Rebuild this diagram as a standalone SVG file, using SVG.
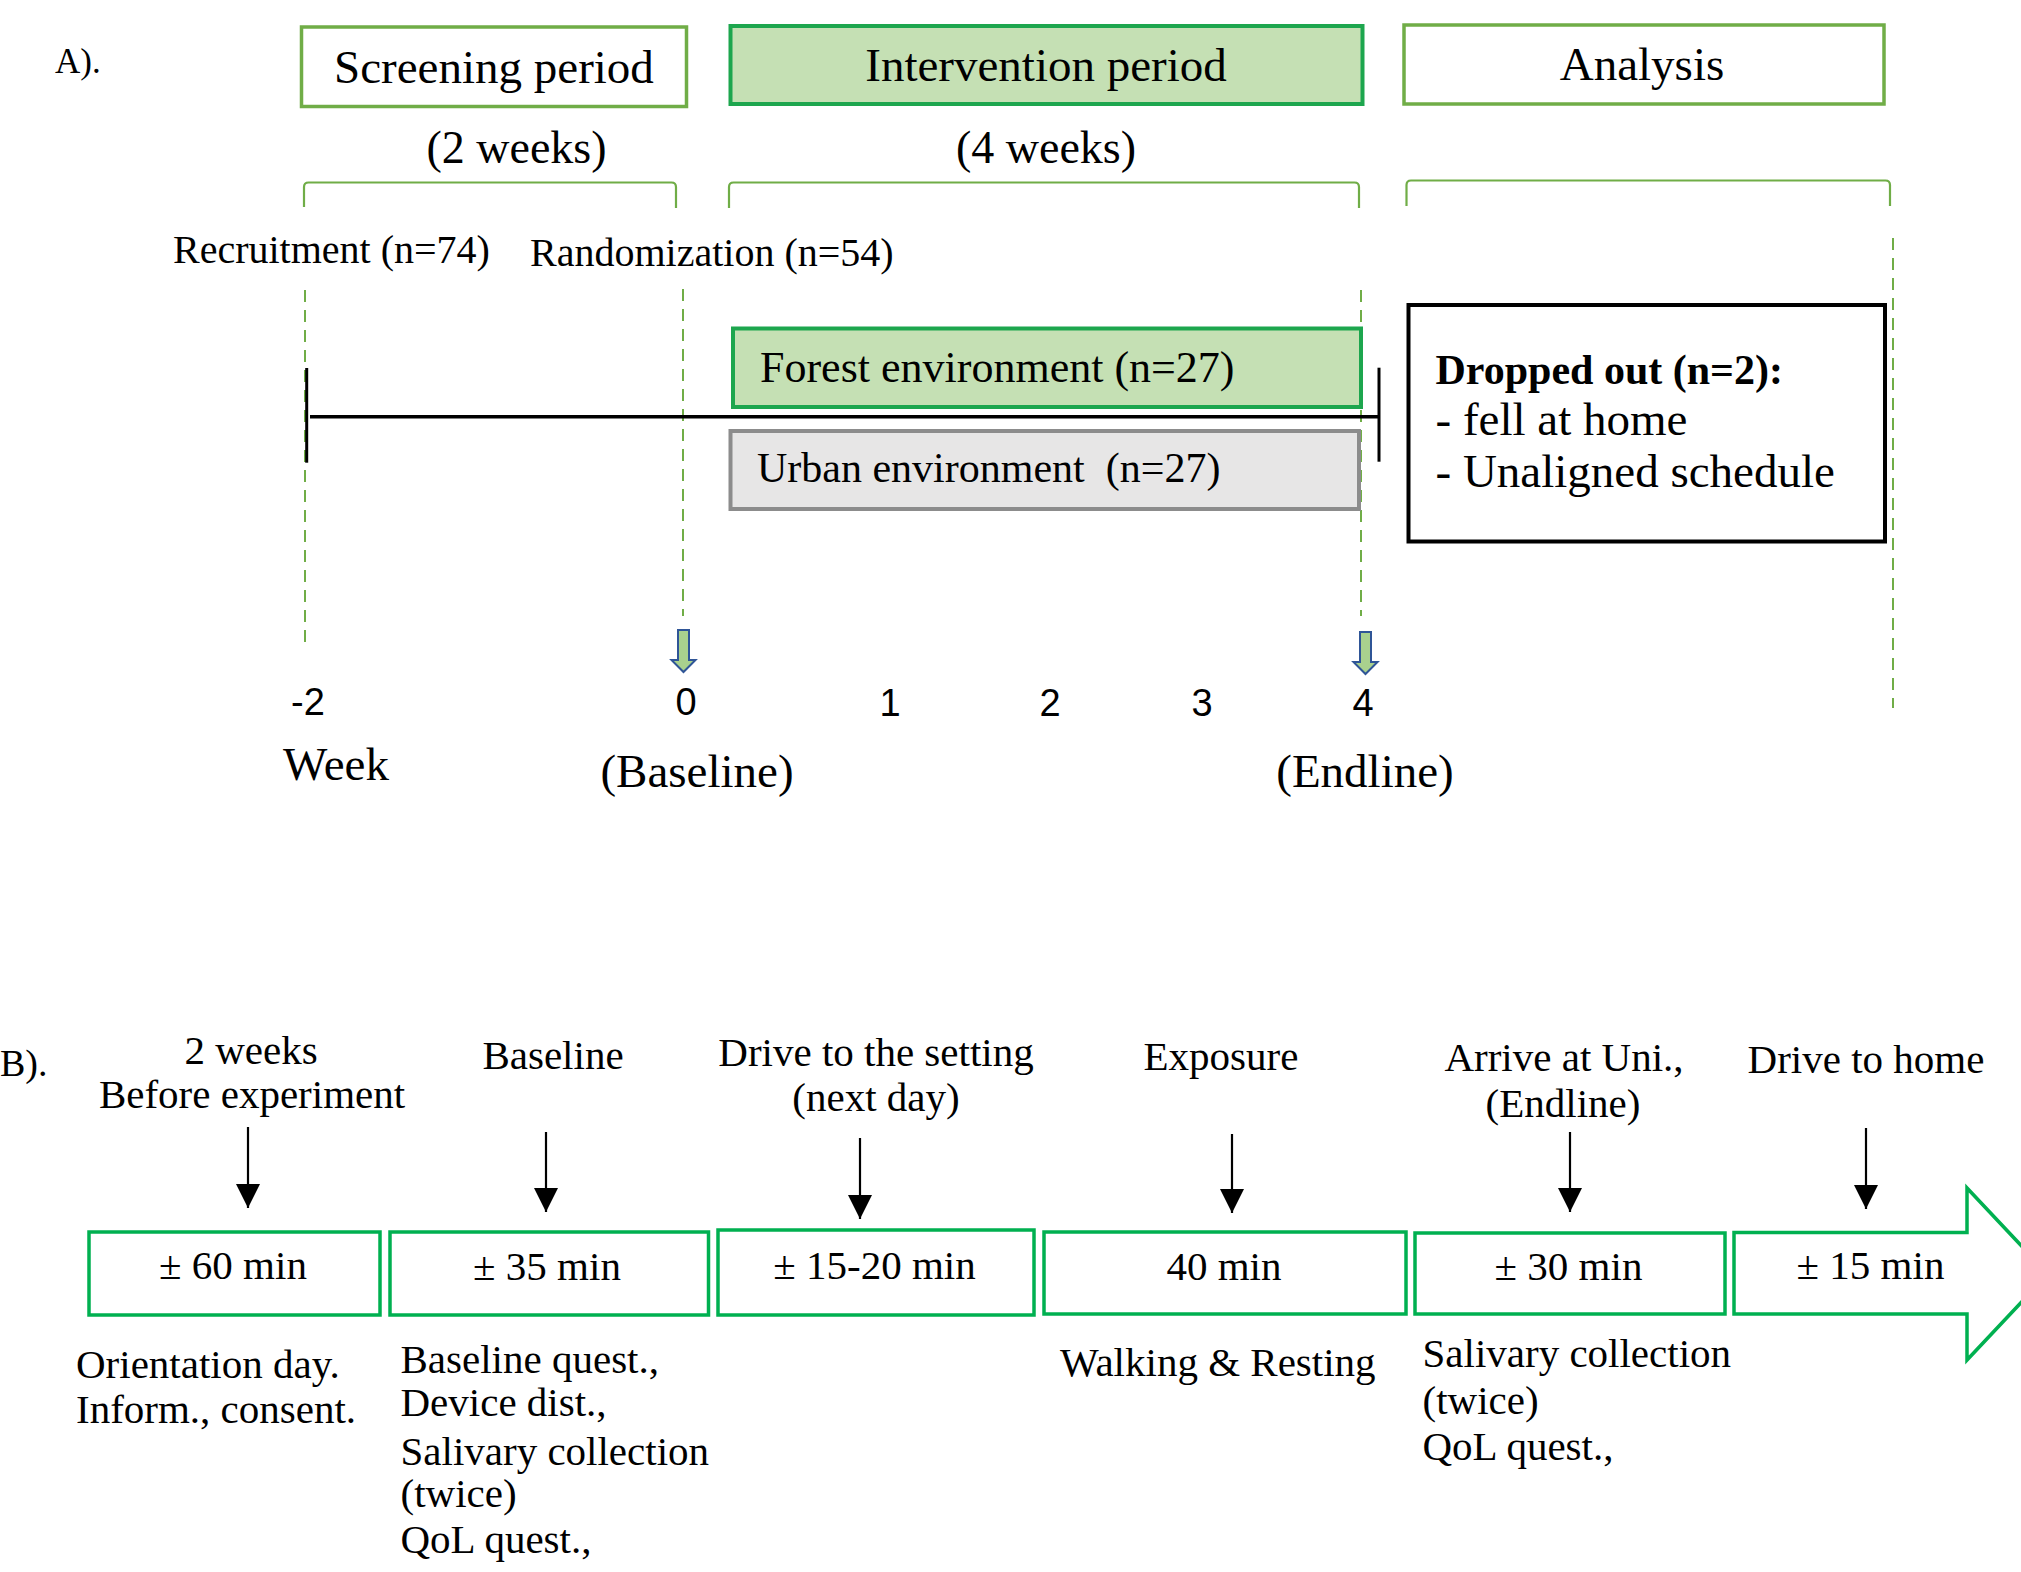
<svg xmlns="http://www.w3.org/2000/svg" width="2021" height="1572" viewBox="0 0 2021 1572">
<style>
text{font-family:"Liberation Serif","Times New Roman",serif;fill:#000}
.c{text-anchor:middle}
.t47{font-size:47px}
.t46{font-size:46px}
.t40{font-size:40px}
.t41{font-size:41px}
.num{font-family:"Liberation Sans",Arial,sans-serif;font-size:38px;text-anchor:middle}
.lg{fill:#fff;stroke:#70AD47;stroke-width:3.5}
.dg{fill:#C5E0B4;stroke:#1DA64E;stroke-width:4}
.gb{fill:#fff;stroke:#00B050;stroke-width:3.5}
.dash{stroke:#70AD47;stroke-width:2;stroke-dasharray:12 8;fill:none}
.brk{stroke:#70AD47;stroke-width:2.2;fill:none}
.blk{stroke:#000;fill:none}
.ar{stroke:#000;stroke-width:2.2;fill:none;marker-end:url(#ah)}
.barr{fill:#A9D18E;stroke:#2F5597;stroke-width:2}
</style>
<defs>
<marker id="ah" viewBox="0 0 24 24" refX="24" refY="12" markerWidth="24" markerHeight="24" markerUnits="userSpaceOnUse" orient="auto">
<path d="M0,0 L24,12 L0,24 z" fill="#000"/>
</marker>
<path id="blue" d="M-5.5,0 H5.5 V30 H12 L0,42 L-12,30 H-5.5 Z"/>
</defs>
<rect width="2021" height="1572" fill="#fff"/>

<text x="55" y="73" style="font-size:35px">A).</text>

<g id="connectors">
<line class="dash" x1="305" y1="290" x2="305" y2="646"/>
<line class="dash" x1="683" y1="289" x2="683" y2="616"/>
<line class="dash" x1="1361" y1="290" x2="1361" y2="616"/>
<line class="dash" x1="1893" y1="238" x2="1893" y2="708"/>
<path class="brk" d="M304,207 V187 Q304,182.5 308.5,182.5 H671.5 Q676,182.5 676,187 V208"/>
<path class="brk" d="M729,208 V187 Q729,182.5 733.5,182.5 H1354.5 Q1359,182.5 1359,187 V208"/>
<path class="brk" d="M1406.5,206 V185 Q1406.5,180.5 1411,180.5 H1885.5 Q1890,180.5 1890,185 V206"/>
<line class="blk" x1="310" y1="416.7" x2="1379" y2="416.7" stroke-width="3.5"/>
<line class="blk" x1="306.7" y1="368" x2="306.7" y2="462.7" stroke-width="3"/>
<line class="blk" x1="1379" y1="367.7" x2="1379" y2="461.7" stroke-width="3"/>
<use href="#blue" class="barr" x="683.5" y="630"/>
<use href="#blue" class="barr" x="1365.5" y="632"/>
<line class="ar" x1="248" y1="1127" x2="248" y2="1208"/>
<line class="ar" x1="546" y1="1132" x2="546" y2="1212"/>
<line class="ar" x1="860" y1="1138" x2="860" y2="1219"/>
<line class="ar" x1="1232" y1="1134" x2="1232" y2="1213"/>
<line class="ar" x1="1570" y1="1132" x2="1570" y2="1212"/>
<line class="ar" x1="1866" y1="1128" x2="1866" y2="1209"/>
</g>

<g id="screening">
<rect class="lg" x="301.5" y="27" width="385" height="79.5"/>
<text class="t47 c" x="494" y="82.5">Screening period</text>
</g>
<g id="intervention">
<rect class="dg" x="730.5" y="26" width="632" height="78"/>
<text class="t47 c" x="1046" y="81">Intervention period</text>
</g>
<g id="analysis">
<rect class="lg" x="1404" y="25" width="480" height="79"/>
<text class="t47 c" x="1642" y="80">Analysis</text>
</g>

<text class="t46 c" x="516.5" y="163">(2 weeks)</text>
<text class="t46 c" x="1046" y="163">(4 weeks)</text>
<text class="t40" x="173" y="263">Recruitment (n=74)</text>
<text class="t40" x="530" y="266">Randomization (n=54)</text>

<g id="forest">
<rect class="dg" x="733" y="328.5" width="628" height="78.5"/>
<text x="760" y="382" style="font-size:44px">Forest environment (n=27)</text>
</g>
<g id="urban">
<rect x="730.5" y="431" width="628.5" height="78" fill="#E7E6E6" stroke="#8C8C8C" stroke-width="4"/>
<text x="757" y="482" style="font-size:42px" xml:space="preserve">Urban environment  (n=27)</text>
</g>
<g id="dropped">
<rect x="1408.5" y="305" width="476.5" height="236.5" fill="#fff" stroke="#000" stroke-width="4"/>
<text x="1435.5" y="383.5" style="font-size:42px;font-weight:bold">Dropped out (n=2):</text>
<text class="t47" x="1435.5" y="435">- fell at home</text>
<text class="t47" x="1435.5" y="487">- Unaligned schedule</text>
</g>

<g id="weeks">
<text class="num" x="308" y="715">-2</text>
<text class="num" x="686" y="715">0</text>
<text class="num" x="890" y="716">1</text>
<text class="num" x="1050" y="716">2</text>
<text class="num" x="1202" y="716">3</text>
<text class="num" x="1363" y="716">4</text>
<text class="t47 c" x="336" y="780">Week</text>
<text class="t47 c" x="697" y="787">(Baseline)</text>
<text class="t47 c" x="1365" y="787">(Endline)</text>
</g>

<text x="0" y="1076" style="font-size:38px">B).</text>

<g id="labels-top">
<text class="t41 c" x="251" y="1064">2 weeks</text>
<text class="t41 c" x="252" y="1108">Before experiment</text>
<text class="t41 c" x="553" y="1069">Baseline</text>
<text class="t41 c" x="876" y="1066">Drive to the setting</text>
<text class="t41 c" x="876" y="1111">(next day)</text>
<text class="t41 c" x="1221" y="1070">Exposure</text>
<text class="t41 c" x="1564" y="1071">Arrive at Uni.,</text>
<text class="t41 c" x="1563" y="1117">(Endline)</text>
<text class="t41 c" x="1866" y="1073">Drive to home</text>
</g>

<g id="step1">
<rect class="gb" x="89" y="1232" width="291" height="83"/>
<text class="t41 c" x="233" y="1279">± 60 min</text>
</g>
<g id="step2">
<rect class="gb" x="390" y="1232" width="318.5" height="83"/>
<text class="t41 c" x="547" y="1280">± 35 min</text>
</g>
<g id="step3">
<rect class="gb" x="718" y="1230" width="316" height="85"/>
<text class="t41 c" x="874.5" y="1279">± 15-20 min</text>
</g>
<g id="step4">
<rect class="gb" x="1044" y="1232" width="362" height="82"/>
<text class="t41 c" x="1224" y="1280">40 min</text>
</g>
<g id="step5">
<rect class="gb" x="1415" y="1233" width="310" height="81"/>
<text class="t41 c" x="1568.5" y="1280">± 30 min</text>
</g>
<g id="step6">
<path class="gb" d="M1734,1232.5 H1967 V1188 L2048,1274 L1967,1360 V1314 H1734 Z"/>
<text class="t41 c" x="1870.5" y="1279">± 15 min</text>
</g>

<g id="labels-bottom">
<text class="t41" x="76" y="1377.5">Orientation day.</text>
<text class="t41" x="76" y="1423">Inform., consent.</text>
<text class="t41" x="400.5" y="1373">Baseline quest.,</text>
<text class="t41" x="400.5" y="1416">Device dist.,</text>
<text class="t41" x="400.5" y="1465">Salivary collection</text>
<text class="t41" x="400.5" y="1507">(twice)</text>
<text class="t41" x="400.5" y="1553">QoL quest.,</text>
<text class="t41" x="1060" y="1376">Walking &amp; Resting</text>
<text class="t41" x="1422.5" y="1366.5">Salivary collection</text>
<text class="t41" x="1422.5" y="1414">(twice)</text>
<text class="t41" x="1422.5" y="1460">QoL quest.,</text>
</g>
</svg>
